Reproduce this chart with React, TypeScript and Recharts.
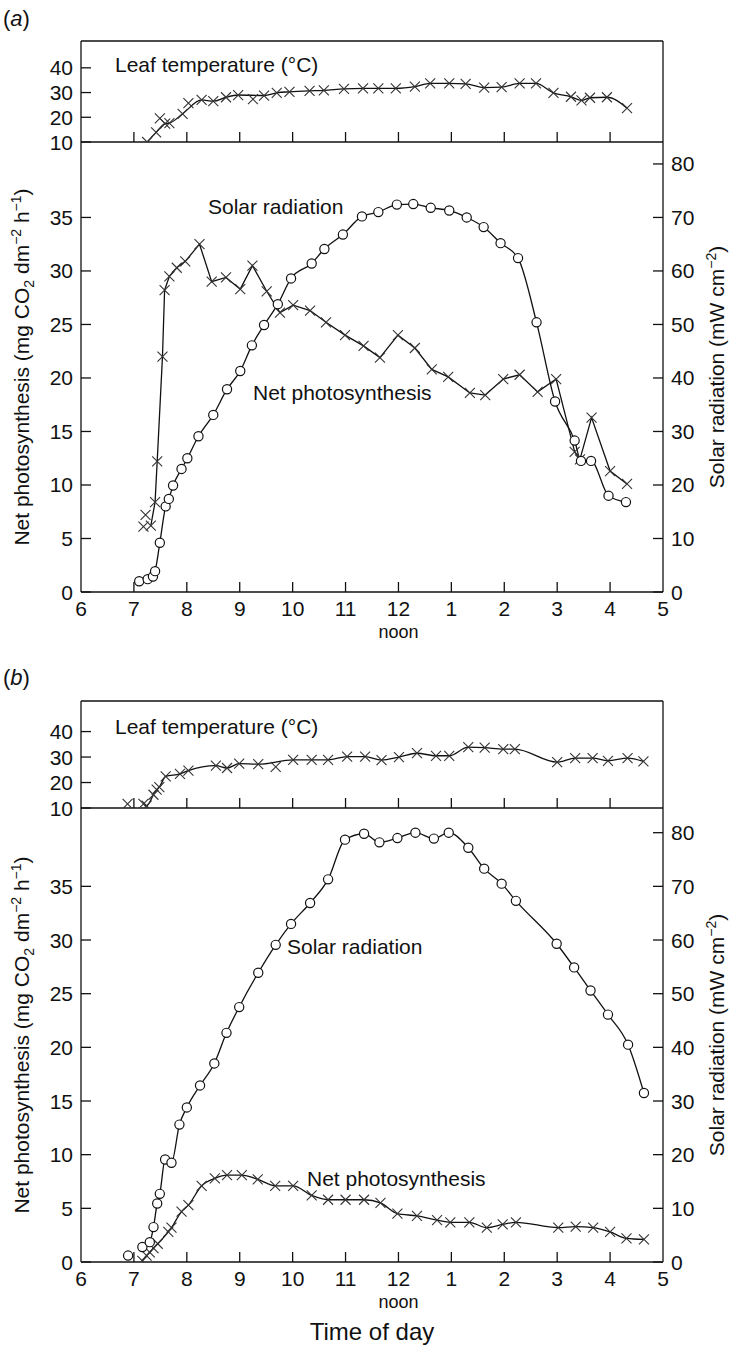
import React from 'react';
import { ComposedChart, Line, XAxis, YAxis } from 'recharts';

const W = 731;
const FONT = '"Liberation Sans", Arial, Helvetica, sans-serif';
const INK = '#111';

// shared axes: clock hours 6 am .. 5 pm, printed as 12-hour labels
const hourTicks = [6, 7, 8, 9, 10, 11, 12, 13, 14, 15, 16, 17];
const hourLabels = ['6', '7', '8', '9', '10', '11', '12', '1', '2', '3', '4', '5'];
const tempTicks = [10, 20, 30, 40];
const netTicks = [0, 5, 10, 15, 20, 25, 30, 35];
const solarTicks = [0, 10, 20, 30, 40, 50, 60, 70, 80];

// ---- panel (a) ----
const tempHoursA = [7.25, 7.42, 7.59, 7.67, 7.92, 8.28, 8.5, 8.74, 8.97, 9.46, 9.7, 9.94, 10.32, 10.59, 10.97, 11.33, 11.62, 11.95, 12.31, 12.6, 12.96, 13.27, 13.62, 13.95, 14.29, 14.6, 14.93, 15.26, 15.46, 15.62, 15.94, 16.32];
const tempA = [10, 13.9, 17.4, 17.6, 21.4, 27, 26.5, 28.1, 29, 28.8, 29.9, 30.3, 30.7, 30.9, 31.5, 31.7, 31.7, 31.7, 32.4, 33.7, 33.7, 33.5, 32, 32.2, 33.7, 33.7, 29.9, 28.3, 26.8, 27.9, 28.1, 23.7];
// readings that sit off the drawn curve
const tempLooseHoursA = [7.49, 8.03, 9.25];
const tempLooseA = [19.6, 25.7, 27.3];

const netHoursA = [7.32, 7.4, 7.44, 7.54, 7.58, 7.67, 7.81, 7.97, 8.24, 8.47, 8.74, 9.01, 9.24, 9.51, 9.76, 10.01, 10.33, 10.63, 10.99, 11.34, 11.65, 11.99, 12.31, 12.63, 12.94, 13.35, 13.64, 13.98, 14.29, 14.63, 14.98, 15.33, 15.43, 15.65, 16.0, 16.32];
const netA = [6.2, 8.4, 12.2, 22, 28.2, 29.5, 30.3, 30.9, 32.5, 29, 29.4, 28.3, 30.5, 28.1, 26.1, 26.8, 26.3, 25.2, 24, 23, 21.9, 24, 22.8, 20.8, 20.1, 18.6, 18.4, 19.9, 20.3, 18.7, 19.9, 13.1, 12.4, 16.3, 11.3, 10.1];
const netLooseHoursA = [7.18, 7.22];
const netLooseA = [6.1, 7.2];

const solarHoursA = [7.1, 7.26, 7.36, 7.4, 7.49, 7.6, 7.66, 7.74, 7.9, 8.01, 8.22, 8.5, 8.76, 9.01, 9.23, 9.46, 9.72, 9.97, 10.36, 10.6, 10.95, 11.31, 11.62, 11.97, 12.28, 12.61, 12.96, 13.29, 13.61, 13.93, 14.26, 14.61, 14.96, 15.33, 15.45, 15.64, 15.97, 16.3];
const solarA = [2, 2.4, 2.9, 3.9, 9.2, 16, 17.4, 19.9, 23, 25, 29.1, 33.1, 37.9, 41.3, 46.1, 49.9, 53.8, 58.6, 61.4, 64.1, 66.8, 70.2, 71, 72.4, 72.5, 71.8, 71.3, 70, 68.2, 65.2, 62.4, 50.4, 35.6, 28.3, 24.5, 24.5, 18, 16.8];

// ---- panel (b) ----
const tempHoursB = [7.18, 7.24, 7.37, 7.43, 7.48, 7.6, 7.87, 8.03, 8.55, 8.76, 8.99, 9.35, 10.01, 10.36, 10.67, 11.03, 11.37, 11.68, 12.01, 12.35, 12.71, 12.96, 13.32, 13.63, 13.98, 14.2, 15.0, 15.34, 15.67, 15.96, 16.33, 16.63];
const tempB = [11.6, 10.9, 15.2, 17.2, 18.2, 22.4, 23.4, 24.7, 26.6, 25.7, 27.4, 27.2, 28.9, 28.9, 28.9, 30.2, 30.2, 28.8, 30, 31.5, 30.5, 30.5, 33.9, 33.7, 33.1, 33.1, 28, 29.6, 29.6, 28.5, 29.6, 28.3];
const tempLooseHoursB = [6.88, 9.68];
const tempLooseB = [11.6, 26.1];

const netHoursB = [7.16, 7.24, 7.3, 7.37, 7.45, 7.65, 7.71, 7.9, 8.03, 8.28, 8.53, 8.76, 9.04, 9.34, 9.67, 10.01, 10.36, 10.67, 11.0, 11.35, 11.66, 11.98, 12.35, 12.73, 12.98, 13.34, 13.67, 13.97, 14.22, 15.02, 15.35, 15.68, 16.0, 16.31, 16.64];
const netB = [0.1, 0.6, 0.9, 1.3, 1.7, 2.8, 3.2, 4.7, 5.3, 7.1, 7.8, 8.1, 8.1, 7.7, 7.1, 7.1, 6.2, 5.8, 5.8, 5.8, 5.5, 4.5, 4.3, 3.9, 3.7, 3.7, 3.2, 3.5, 3.7, 3.2, 3.3, 3.2, 2.8, 2.2, 2.1];

const solarHoursB = [7.16, 7.3, 7.37, 7.44, 7.49, 7.59, 7.71, 7.86, 8.0, 8.25, 8.52, 8.75, 8.99, 9.35, 9.68, 9.97, 10.33, 10.67, 10.99, 11.35, 11.64, 11.98, 12.32, 12.67, 12.95, 13.32, 13.62, 13.95, 14.22, 14.99, 15.32, 15.63, 15.96, 16.34, 16.64];
const solarB = [2.8, 3.7, 6.5, 10.9, 12.7, 19.1, 18.5, 25.6, 28.8, 32.9, 37, 42.7, 47.5, 53.9, 59.1, 63, 66.9, 71.3, 78.7, 79.8, 78.2, 79, 80, 78.9, 80, 77.2, 73.3, 70.5, 67.3, 59.3, 54.9, 50.6, 46.1, 40.5, 31.5];
const solarLooseHoursB = [6.89];
const solarLooseB = [1.2];

type Pt = { h: number; v: number };
const zip = (hs: number[], vs: number[]): Pt[] => hs.map((h, i) => ({ h, v: vs[i] }));

const hourLabel = (v: number) => hourLabels[hourTicks.indexOf(v)];
const isInner = (v: number) => v > 6 && v < 17;

// markers
const Cross = (props: any) => {
  const { cx, cy, index } = props;
  const s = 5;
  return (
    <path
      key={`x${index}`}
      d={`M${cx - s},${cy - s}L${cx + s},${cy + s}M${cx - s},${cy + s}L${cx + s},${cy - s}`}
      stroke="#333"
      strokeWidth={1.1}
      fill="none"
    />
  );
};

const Ring = (props: any) => {
  const { cx, cy, index } = props;
  return <circle key={`o${index}`} cx={cx} cy={cy} r={4.6} fill="#fff" stroke={INK} strokeWidth={1.2} />;
};

// ticks all point into the plot; labels sit outside
const BottomTick = (props: any) => {
  const { x, y, payload } = props;
  const v = payload.value;
  return (
    <g>
      {isInner(v) && <line x1={x} x2={x} y1={y} y2={y - 10} stroke={INK} strokeWidth={1.3} />}
      <text x={x} y={y + 24} textAnchor="middle" fontSize={21} fontFamily={FONT} fill={INK}>
        {hourLabel(v)}
      </text>
      {v === 12 && (
        <text x={x} y={y + 46} textAnchor="middle" fontSize={18} fontFamily={FONT} fill={INK}>
          noon
        </text>
      )}
    </g>
  );
};

const UpTick = (props: any) => {
  const { x, y, payload } = props;
  if (!isInner(payload.value)) return <g />;
  return <line x1={x} x2={x} y1={y} y2={y - 10} stroke={INK} strokeWidth={1.3} />;
};

const LeftTick = (props: any) => {
  const { x, y, payload } = props;
  return (
    <g>
      <line x1={x} x2={x + 10} y1={y} y2={y} stroke={INK} strokeWidth={1.3} />
      <text x={x - 8} y={y} dy={7.5} textAnchor="end" fontSize={21} fontFamily={FONT} fill={INK}>
        {payload.value}
      </text>
    </g>
  );
};

const RightTick = (props: any) => {
  const { x, y, payload } = props;
  return (
    <g>
      <line x1={x - 10} x2={x} y1={y} y2={y} stroke={INK} strokeWidth={1.3} />
      <text x={x + 8} y={y} dy={7.5} textAnchor="start" fontSize={21} fontFamily={FONT} fill={INK}>
        {payload.value}
      </text>
    </g>
  );
};

const axisLine = { stroke: INK, strokeWidth: 1.3 };

interface TempProps {
  top: number;
  height: number;
  domain: [number, number];
  line: Pt[];
  loose: Pt[];
}

// the bottom margin leaves room for the "10" label that hangs below the separator
function TempChart({ top, height, domain, line, loose }: TempProps) {
  return (
    <div style={{ position: 'absolute', left: 0, top }}>
      <ComposedChart width={W} height={height} margin={{ top: 40, right: 0, bottom: 17, left: 0 }}>
        <XAxis xAxisId="top" orientation="top" type="number" dataKey="h" domain={[6, 17]} height={1} tick={false} tickLine={false} axisLine={axisLine} allowDataOverflow />
        <XAxis type="number" dataKey="h" domain={[6, 17]} ticks={hourTicks} interval={0} height={1} tickLine={false} tickSize={0} tickMargin={0} tick={UpTick} axisLine={axisLine} allowDataOverflow />
        <YAxis type="number" domain={domain} ticks={tempTicks} interval={0} width={81} tickLine={false} tickSize={0} tickMargin={0} tick={LeftTick} axisLine={axisLine} allowDataOverflow />
        <YAxis yAxisId="r" orientation="right" type="number" domain={domain} width={68} tick={false} tickLine={false} axisLine={axisLine} allowDataOverflow />
        <Line data={line} dataKey="v" type="monotone" stroke={INK} strokeWidth={1.3} dot={Cross} activeDot={false} isAnimationActive={false} />
        <Line data={loose} dataKey="v" stroke="none" dot={Cross} activeDot={false} isAnimationActive={false} />
      </ComposedChart>
    </div>
  );
}

interface MainProps {
  top: number;
  height: number;
  netMax: number;
  net: Pt[];
  netLoose: Pt[];
  netCurve: 'linear' | 'monotone';
  solar: Pt[];
  solarLoose: Pt[];
}

function MainChart({ top, height, netMax, net, netLoose, netCurve, solar, solarLoose }: MainProps) {
  return (
    <div style={{ position: 'absolute', left: 0, top }}>
      <ComposedChart width={W} height={height} margin={{ top: 12, right: 0, bottom: 0, left: 0 }}>
        <XAxis type="number" dataKey="h" domain={[6, 17]} ticks={hourTicks} interval={0} height={50} tickLine={false} tickSize={0} tickMargin={0} tick={BottomTick} axisLine={axisLine} allowDataOverflow />
        <YAxis yAxisId="np" type="number" domain={[0, netMax]} ticks={netTicks} interval={0} width={81} tickLine={false} tickSize={0} tickMargin={0} tick={LeftTick} axisLine={axisLine} allowDataOverflow />
        <YAxis yAxisId="sr" orientation="right" type="number" domain={[0, netMax * 2]} ticks={solarTicks} interval={0} width={68} tickLine={false} tickSize={0} tickMargin={0} tick={RightTick} axisLine={axisLine} allowDataOverflow />
        <Line yAxisId="np" data={net} dataKey="v" type={netCurve} stroke={INK} strokeWidth={1.3} dot={Cross} activeDot={false} isAnimationActive={false} />
        <Line yAxisId="np" data={netLoose} dataKey="v" stroke="none" dot={Cross} activeDot={false} isAnimationActive={false} />
        <Line yAxisId="sr" data={solar} dataKey="v" type="monotone" stroke={INK} strokeWidth={1.3} dot={Ring} activeDot={false} isAnimationActive={false} />
        <Line yAxisId="sr" data={solarLoose} dataKey="v" stroke="none" dot={Ring} activeDot={false} isAnimationActive={false} />
      </ComposedChart>
    </div>
  );
}

const txt = { fontFamily: FONT, fill: INK } as const;

function NetTitle({ cy }: { cy: number }) {
  return (
    <text transform={`translate(29, ${cy}) rotate(-90)`} textAnchor="middle" fontSize={21} {...txt}>
      Net photosynthesis (mg CO
      <tspan dy={5} fontSize={14}>2</tspan>
      <tspan dy={-5}> dm</tspan>
      <tspan dy={-8} fontSize={14}>−2</tspan>
      <tspan dy={8}> h</tspan>
      <tspan dy={-8} fontSize={14}>−1</tspan>
      <tspan dy={8}>)</tspan>
    </text>
  );
}

function SolarTitle({ cy }: { cy: number }) {
  return (
    <text transform={`translate(724, ${cy}) rotate(-90)`} textAnchor="middle" fontSize={21} {...txt}>
      Solar radiation (mW cm
      <tspan dy={-8} fontSize={14}>−2</tspan>
      <tspan dy={8}>)</tspan>
    </text>
  );
}

export default function App() {
  return (
    <div style={{ position: 'absolute', left: 0, top: 0, width: W, height: 1347, background: '#fff' }}>
      <TempChart top={0} height={160} domain={[10, 50.85]} line={zip(tempHoursA, tempA)} loose={zip(tempLooseHoursA, tempLooseA)} />
      <MainChart
        top={130}
        height={512}
        netMax={42.05}
        net={zip(netHoursA, netA)}
        netLoose={zip(netLooseHoursA, netLooseA)}
        netCurve="linear"
        solar={zip(solarHoursA, solarA)}
        solarLoose={[]}
      />
      <TempChart top={660} height={166} domain={[10, 52]} line={zip(tempHoursB, tempB)} loose={zip(tempLooseHoursB, tempLooseB)} />
      <MainChart
        top={796}
        height={516}
        netMax={42.3}
        net={zip(netHoursB, netB)}
        netLoose={[]}
        netCurve="monotone"
        solar={zip(solarHoursB, solarB)}
        solarLoose={zip(solarLooseHoursB, solarLooseB)}
      />
      <svg width={W} height={1347} style={{ position: 'absolute', left: 0, top: 0, pointerEvents: 'none' }}>
        <text x={3} y={26} fontSize={22} {...txt}>
          (<tspan fontStyle="italic">a</tspan>)
        </text>
        <text x={3} y={685} fontSize={22} {...txt}>
          (<tspan fontStyle="italic">b</tspan>)
        </text>

        <text x={115} y={72} fontSize={21} {...txt}>Leaf temperature (°C)</text>
        <text x={208} y={214} fontSize={21} {...txt}>Solar radiation</text>
        <text x={253} y={400} fontSize={21} {...txt}>Net photosynthesis</text>
        <NetTitle cy={367} />
        <SolarTitle cy={367} />

        <text x={115} y={734} fontSize={21} {...txt}>Leaf temperature (°C)</text>
        <text x={287} y={954} fontSize={21} {...txt}>Solar radiation</text>
        <text x={307} y={1186} fontSize={21} {...txt}>Net photosynthesis</text>
        <NetTitle cy={1035} />
        <SolarTitle cy={1035} />

        <text x={372} y={1340} textAnchor="middle" fontSize={24} {...txt}>Time of day</text>
      </svg>
    </div>
  );
}
